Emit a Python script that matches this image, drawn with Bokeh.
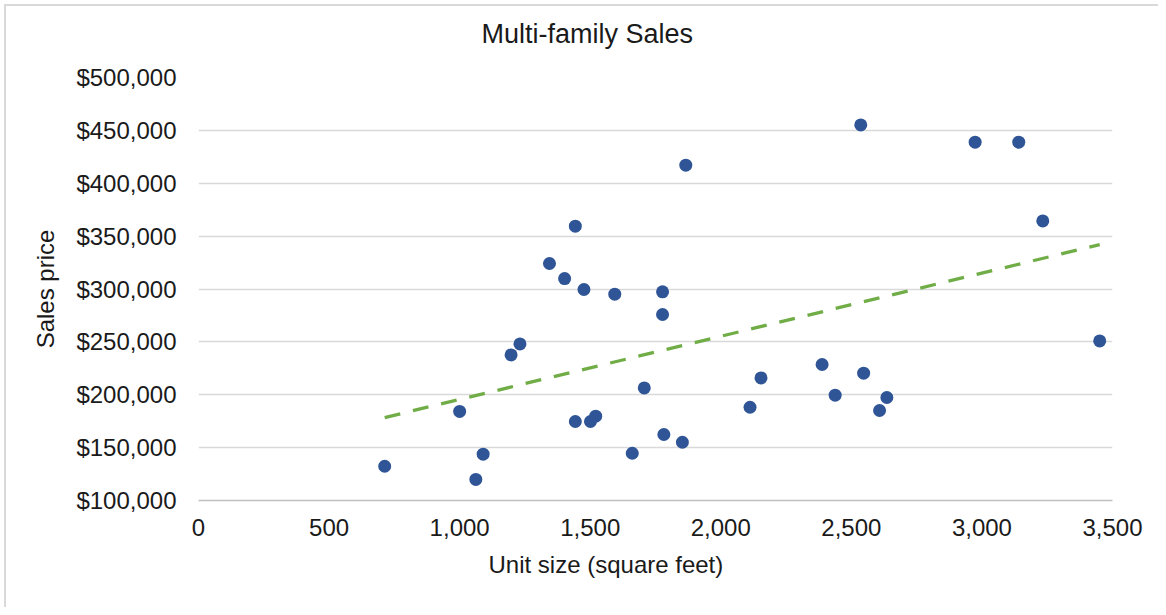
import numpy as np
from bokeh.plotting import figure
from bokeh.models import NumeralTickFormatter, FixedTicker, Title
from bokeh.embed import file_html
from bokeh.resources import INLINE

# ---- data ----
unit_size = [713, 1000, 1062, 1090, 1197, 1231, 1344, 1402, 1443, 1443, 1476,
             1501, 1521, 1594, 1661, 1707, 1777, 1777, 1782, 1853, 1866, 2112,
             2154, 2388, 2438, 2536, 2547, 2608, 2636, 2974, 3141, 3233, 3451]
sales_price = [132400, 184200, 119900, 143800, 237700, 248100, 324100, 309900,
               359400, 174700, 299500, 174700, 179700, 295100, 144700, 206500,
               297300, 275900, 162400, 155100, 417100, 188200, 215900, 228600,
               199600, 455200, 220400, 185100, 197400, 438800, 438800, 364400,
               250900]
x_ticks = [0, 500, 1000, 1500, 2000, 2500, 3000, 3500]
y_ticks = [100000, 150000, 200000, 250000, 300000, 350000, 400000, 450000, 500000]

title_text = "Multi-family Sales"
x_title = "Unit size (square feet)"
y_title = "Sales price"

FONT = "Liberation Sans"
TXT = "#1a1a1a"

p = figure(width=1158, height=607, output_backend="svg", toolbar_location=None,
           x_range=(0, 3500), y_range=(100000, 500000),
           min_border_left=198, min_border_right=46,
           min_border_top=77, min_border_bottom=107)
p.outline_line_color = None
p.background_fill_color = "white"
p.border_fill_color = None
# light grey chart-area border along the left and top edges
p.styles = {"background-color": "white",
            "box-shadow": "inset 4px 4px 0 0 #ffffff, inset 6px 6px 0 0 #d9d9d9"}

# trendline (least-squares fit of the series, like Excel's linear trendline)
slope, intercept = np.polyfit(unit_size, sales_price, 1)
tx = [min(unit_size), max(unit_size)]
ty = [slope * v + intercept for v in tx]

p.scatter(unit_size, sales_price, size=13, fill_color="#2F5597", line_color=None)
p.line(tx, ty, line_color="#70AD47", line_width=3.3, line_dash="16 13")

# axes
p.xaxis.ticker = FixedTicker(ticks=x_ticks)
p.yaxis.ticker = FixedTicker(ticks=y_ticks)
p.xaxis.formatter = NumeralTickFormatter(format="0,0")
p.yaxis.formatter = NumeralTickFormatter(format="$0,0")
for ax in (p.xaxis, p.yaxis):
    ax.major_tick_line_color = None
    ax.minor_tick_line_color = None
    ax.major_tick_out = 0
    ax.major_tick_in = 0
    ax.major_label_text_font = FONT
    ax.major_label_text_font_size = "24px"
    ax.major_label_text_color = TXT
p.yaxis.axis_line_color = None
p.xaxis.axis_line_color = "#bfbfbf"
p.xaxis.axis_line_width = 1.5
p.yaxis.major_label_standoff = 22
p.xaxis.major_label_standoff = 18

p.yaxis.axis_label = y_title
p.yaxis.axis_label_text_font = FONT
p.yaxis.axis_label_text_font_size = "24px"
p.yaxis.axis_label_text_font_style = "normal"
p.yaxis.axis_label_text_color = TXT
p.yaxis.axis_label_standoff = 14

p.xgrid.grid_line_color = None
p.ygrid.grid_line_color = "#d9d9d9"
p.ygrid.grid_line_width = 1.5

# spacing panel between the plot area and the chart title
p.add_layout(Title(text=" ", text_font_size="1px", standoff=21), "above")

# chart title
p.title.text = title_text
p.title.align = "left"
p.title.offset = 283
p.title.text_font = FONT
p.title.text_font_size = "27px"
p.title.text_font_style = "normal"
p.title.text_color = TXT
p.title.standoff = 10

# x-axis title (offset to match the reference's placement)
p.add_layout(Title(text=x_title, align="left", offset=290, vertical_align="top",
                   standoff=24, text_font=FONT, text_font_size="24px",
                   text_font_style="normal", text_color=TXT), "below")

open("out.html", "w").write(file_html(p, INLINE))
